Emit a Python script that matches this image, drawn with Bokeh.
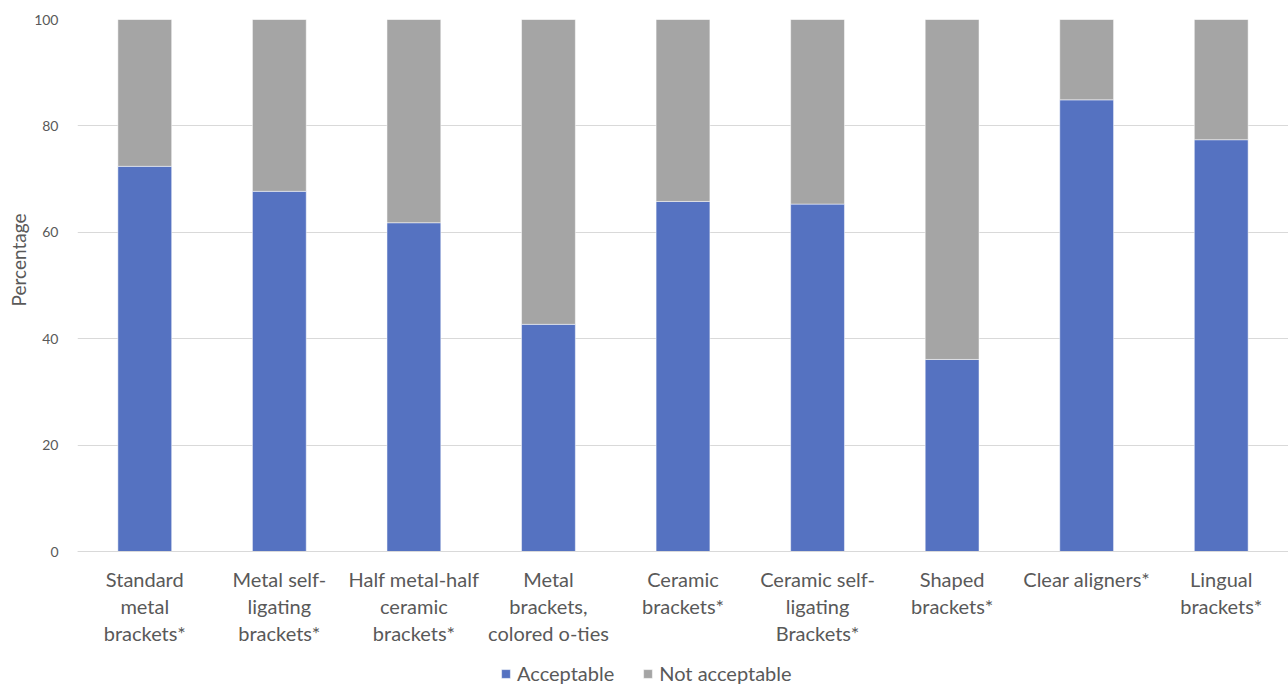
from bokeh.plotting import figure
from bokeh.models import FactorRange, Range1d, ColumnDataSource, Legend, LegendItem, Title
from bokeh.embed import file_html
from bokeh.resources import INLINE

categories = [
    "Standard\nmetal\nbrackets*",
    "Metal self-\nligating\nbrackets*",
    "Half metal-half\nceramic\nbrackets*",
    "Metal\nbrackets,\ncolored o-ties",
    "Ceramic\nbrackets*",
    "Ceramic self-\nligating\nBrackets*",
    "Shaped\nbrackets*",
    "Clear aligners*",
    "Lingual\nbrackets*",
]
acceptable = [72.4, 67.7, 61.8, 42.7, 65.8, 65.3, 36.1, 84.9, 77.4]
not_acceptable = [round(100 - a, 1) for a in acceptable]
series = ["Acceptable", "Not acceptable"]
colors = ["#5572C1", "#A5A5A5"]
y_ticks = [0, 20, 40, 60, 80, 100]

FONT = "Lato"
TEXT = "#595959"

W, H = 1288, 685
TOP, LEFT = 19, 77
BAR_AREA = 532          # pixel height of the 0..100 band
frame_h = H - TOP
y_min = -(frame_h - BAR_AREA) * 100 / BAR_AREA   # room below 0 for category labels + legend

source = ColumnDataSource(dict(cat=categories, Acceptable=acceptable, **{"Not acceptable": not_acceptable}))

p = figure(
    width=W, height=H,
    x_range=FactorRange(*categories, range_padding=0),
    y_range=Range1d(y_min, 100),
    output_backend="svg", toolbar_location=None,
    min_border_left=LEFT, min_border_right=0, min_border_top=TOP, min_border_bottom=0,
)

renderers = p.vbar_stack(series, x="cat", width=0.4, source=source,
                         color=colors, line_color="white", line_width=0.5)

p.xgrid.grid_line_color = None
p.ygrid.grid_line_color = "#D9D9D9"
p.ygrid.grid_line_width = 1
p.outline_line_color = None

p.yaxis.ticker = y_ticks
p.yaxis.axis_line_color = None
p.yaxis.major_tick_line_color = None
p.yaxis.minor_tick_line_color = None
p.yaxis.major_label_text_font = FONT
p.yaxis.major_label_text_font_size = "14px"
p.yaxis.major_label_text_color = TEXT
p.yaxis.major_label_standoff = 13

# category axis sits on the zero line
p.xaxis.fixed_location = 0
p.xaxis.axis_line_color = "#D9D9D9"
p.xaxis.axis_line_width = 1
p.xaxis.major_tick_line_color = None
p.xaxis.minor_tick_line_color = None
p.xaxis.major_label_text_font = FONT
p.xaxis.major_label_text_font_size = "20px"
p.xaxis.major_label_text_color = TEXT
p.xaxis.major_label_text_line_height = 1.13
p.xaxis.major_label_standoff = 9
p.xaxis.major_label_orientation = "horizontal"

# y-axis title, centred on the 0..100 band
p.add_layout(Title(text="Percentage", align="right", offset=194,
                   text_font=FONT, text_font_size="19px", text_font_style="normal",
                   text_color=TEXT, standoff=4), "left")

legend = Legend(
    items=[LegendItem(label=s, renderers=[r]) for s, r in zip(series, renderers)],
    orientation="horizontal",
    location=(423, 0),
    label_text_font=FONT,
    label_text_font_size="20px",
    label_text_color=TEXT,
    glyph_width=11, glyph_height=11,
    label_standoff=6,
    spacing=28,
    border_line_color=None,
    background_fill_alpha=0,
    padding=0, margin=0,
)
p.add_layout(legend, "center")

open("out.html", "w").write(file_html(p, INLINE))
